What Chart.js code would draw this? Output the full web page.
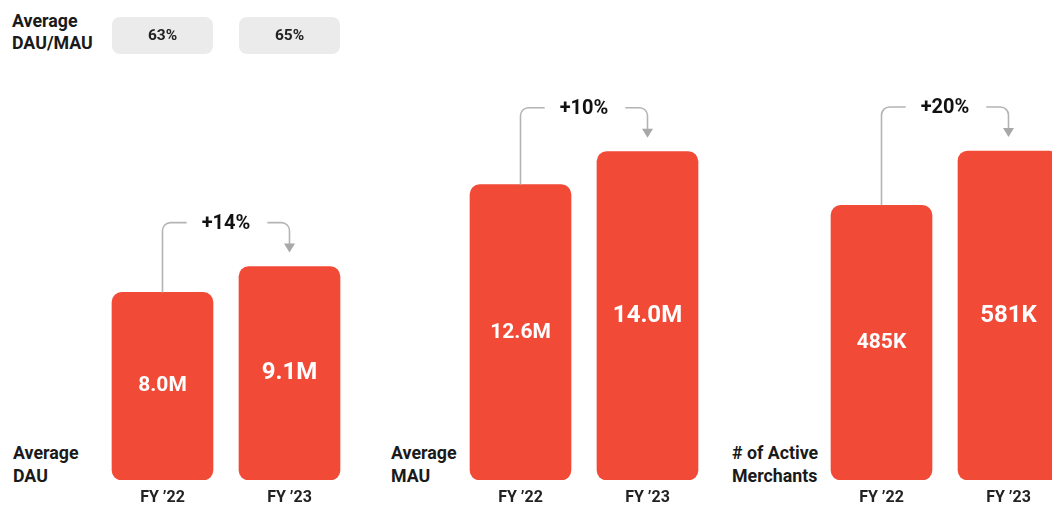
<!DOCTYPE html>
<html lang="en">
<head>
    <meta charset="UTF-8">
    <title>Users and Merchants FY22 vs FY23</title>
    <script src="https://cdn.jsdelivr.net/npm/chart.js"></script>
    <style>
        html, body { margin: 0; padding: 0; background: #fff; }
        body { width: 1052px; height: 506px; position: relative; overflow: hidden; font-family: Roboto, Arial, sans-serif; }
        .panel { position: absolute; top: 0; width: 254px; height: 506px; }
        .row-title { position: absolute; font-weight: bold; font-size: 17.8px; line-height: 23px; color: #1a1a1a; white-space: nowrap; }
    </style>
</head>
<body>
    <div class="row-title" style="left:12px; top:10px; line-height:22px;">Average<br>DAU/MAU</div>
    <div class="row-title" style="left:13px; top:441px;">Average<br>DAU</div>
    <div class="row-title" style="left:391px; top:441px;">Average<br>MAU</div>
    <div class="row-title" style="left:732px; top:441px;"># of Active<br>Merchants</div>

    <div class="panel" style="left:99px;"><canvas id="dauChart"></canvas></div>
    <div class="panel" style="left:457px;"><canvas id="mauChart"></canvas></div>
    <div class="panel" style="left:818px;"><canvas id="merchantChart"></canvas></div>

    <script>
        // data
        const categories = ['FY \u201922', 'FY \u201923'];
        const dauValues = [8.0, 9.1];          // millions
        const mauValues = [12.6, 14.0];        // millions
        const merchantValues = [485, 581];     // thousands
        const growthLabels = ['+14%', '+10%', '+20%'];
        const dauMauRatio = ['63%', '65%'];

        const BAR_RED = '#F14A37';
        const LINE_GRAY = '#b4b4b4';

        // draws value labels, category labels, growth bracket (and the DAU/MAU pills on the first panel)
        const decorPlugin = {
            id: 'decor',
            afterDatasetsDraw(chart, args, opts) {
                const ctx = chart.ctx;
                const meta = chart.getDatasetMeta(0);
                const xs = chart.scales.x;
                const ys = chart.scales.y;
                const vals = chart.data.datasets[0].data;

                ctx.save();
                ctx.textAlign = 'center';
                ctx.textBaseline = 'middle';

                // value inside each bar
                meta.data.forEach((bar, i) => {
                    const mid = (bar.y + bar.base) / 2;
                    ctx.fillStyle = '#fff';
                    ctx.font = 'bold ' + (i === 0 ? 21 : 24) + 'px Roboto';
                    ctx.fillText(opts.format(vals[i]), bar.x, mid);
                });

                // category labels under the bars
                ctx.fillStyle = '#222';
                ctx.font = 'bold 16px Roboto';
                categories.forEach((c, i) => {
                    ctx.fillText(c, xs.getPixelForValue(i), chart.chartArea.bottom + 18);
                });

                // growth bracket
                const x0 = xs.getPixelForValue(0);
                const x1 = xs.getPixelForValue(1);
                const y0 = ys.getPixelForValue(vals[0]);
                const y1 = ys.getPixelForValue(vals[1]);
                const top = Math.min(y0, y1);
                const by = top - 44;
                const tip = top - 14;
                const r = 8;
                const tx = (x0 + x1) / 2;
                ctx.font = 'bold 20px Roboto';
                const tw = ctx.measureText(opts.growth).width;

                ctx.strokeStyle = LINE_GRAY;
                ctx.lineWidth = 1.6;
                ctx.beginPath();
                ctx.moveTo(x0, y0);
                ctx.lineTo(x0, by + r);
                ctx.arcTo(x0, by, x0 + r, by, r);
                ctx.lineTo(tx - tw / 2 - 15, by);
                ctx.moveTo(tx + tw / 2 + 17, by);
                ctx.lineTo(x1 - r, by);
                ctx.arcTo(x1, by, x1, by + r, r);
                ctx.lineTo(x1, tip - 8);
                ctx.stroke();

                ctx.fillStyle = '#a8a8a8';
                ctx.beginPath();
                ctx.moveTo(x1 - 5.5, tip - 9);
                ctx.lineTo(x1 + 5.5, tip - 9);
                ctx.lineTo(x1, tip);
                ctx.closePath();
                ctx.fill();

                ctx.fillStyle = '#111';
                ctx.fillText(opts.growth, tx, by + 1);

                // DAU/MAU pills above the first panel
                if (opts.pills) {
                    opts.pills.forEach((p, i) => {
                        const cx = xs.getPixelForValue(i);
                        ctx.fillStyle = '#ebebeb';
                        ctx.beginPath();
                        ctx.roundRect(cx - 50.5, 17, 101, 37, 8);
                        ctx.fill();
                        ctx.fillStyle = '#222';
                        ctx.font = 'bold 15.5px Roboto';
                        ctx.fillText(p, cx, 36);
                    });
                }
                ctx.restore();
            }
        };

        function makePanel(id, values, max, padTop, growth, format, pills) {
            return new Chart(document.getElementById(id), {
                type: 'bar',
                data: {
                    labels: categories,
                    datasets: [{
                        data: values,
                        backgroundColor: BAR_RED,
                        borderRadius: 10,
                        borderSkipped: false,
                        barThickness: 101
                    }]
                },
                options: {
                    responsive: true,
                    maintainAspectRatio: false,
                    animation: false,
                    layout: { padding: { top: padTop, bottom: 26, left: 0, right: 0 } },
                    scales: {
                        x: { display: false },
                        y: { display: false, min: 0, max: max }
                    },
                    plugins: {
                        legend: { display: false },
                        tooltip: { enabled: false },
                        decor: { growth: growth, format: format, pills: pills }
                    }
                },
                plugins: [decorPlugin]
            });
        }

        makePanel('dauChart', dauValues, 20, 11, growthLabels[0], v => v.toFixed(1) + 'M', dauMauRatio);
        makePanel('mauChart', mauValues, 20, 11, growthLabels[1], v => v.toFixed(1) + 'M', null);
        makePanel('merchantChart', merchantValues, 800, 27, growthLabels[2], v => v + 'K', null);
    </script>
</body>
</html>
